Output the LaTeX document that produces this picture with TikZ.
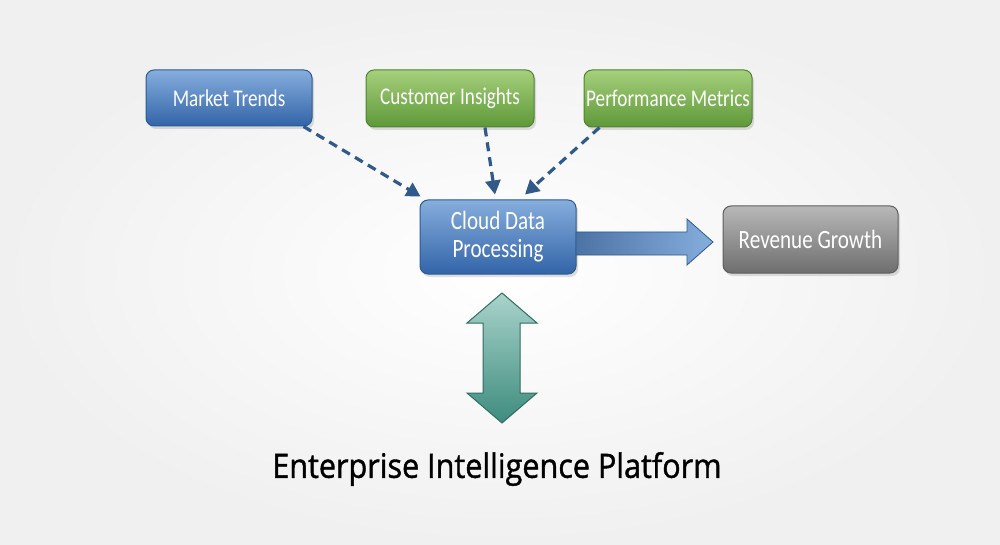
\documentclass[tikz,border=0pt]{standalone}
\usepackage{fontspec}
\setmainfont{Carlito}
\newfontfamily\nodefont[FakeStretch=0.8]{Carlito}
\newfontfamily\titlefont[FakeStretch=0.91,FakeBold=1.2]{Open Sans}
\usetikzlibrary{arrows.meta,shadows,calc}
\definecolor{bluetop}{HTML}{86AEDD}
\definecolor{bluebot}{HTML}{3264A8}
\definecolor{blueedge}{HTML}{2C5A94}
\definecolor{greentop}{HTML}{A6D07C}
\definecolor{greenbot}{HTML}{5E9838}
\definecolor{greenedge}{HTML}{4E8430}
\definecolor{graytop}{HTML}{B8B8B8}
\definecolor{graybot}{HTML}{6E6E6E}
\definecolor{grayedge}{HTML}{5E5E5E}
\definecolor{dashcol}{HTML}{2F5A8A}
\definecolor{tealtop}{HTML}{A9D3CB}
\definecolor{tealbot}{HTML}{3E8C7E}
\definecolor{tealedge}{HTML}{2F6E62}
\definecolor{bgout}{HTML}{F0F0F0}
\tikzset{
  box/.style={rounded corners=4pt, line width=0.5pt, text=white, align=center,
    font=\nodefont\fontsize{12}{13}\selectfont, inner sep=0pt,
    drop shadow={opacity=0.25, shadow xshift=1pt, shadow yshift=-1.5pt}},
  bigtext/.style={font=\nodefont\fontsize{13.2}{14}\selectfont},
  bluebox/.style={box, draw=blueedge, top color=bluetop, bottom color=bluebot},
  greenbox/.style={box, draw=greenedge, top color=greentop, bottom color=greenbot},
  graybox/.style={box, draw=grayedge, top color=graytop, bottom color=graybot},
  dasharr/.style={draw=dashcol, line width=1.6pt, dash pattern=on 4.5pt off 3pt,
    -{Triangle[length=7pt,width=7.5pt,fill=dashcol]}},
}
\begin{document}
\begin{tikzpicture}[x=0.5pt,y=-0.5pt]
\useasboundingbox (0,0) rectangle (1000,545);
\shade[inner color=white, outer color=bgout] (0,0) rectangle (1000,545);

\node[bluebox, minimum width=83pt, minimum height=28pt] (mt) at (229,98) {Market Trends};
\node[greenbox, minimum width=84pt, minimum height=28.5pt] (ci) at (450,98.5) {Customer Insights};
\node[greenbox, minimum width=84pt, minimum height=28.5pt] (pm) at (668,98.5) {Performance Metrics};
\node[bluebox, bigtext, minimum width=78pt, minimum height=37pt] (cloud) at (498,237) {Cloud Data\\Processing};
\node[graybox, bigtext, minimum width=87.5pt, minimum height=33.5pt] (rev) at (810.5,239.5) {Revenue Growth};

\draw[dasharr] ([xshift=-4.5pt]mt.south east) -- ([xshift=0.5pt,yshift=1.5pt]cloud.north west);
\draw[dasharr] ([xshift=17.5pt]ci.south) -- ([xshift=-1.5pt,yshift=2.5pt]cloud.north);
\draw[dasharr] ([xshift=8pt]pm.south west) -- ([xshift=13.5pt,yshift=2.5pt]cloud.north);

% right block arrow
\shade[left color=blueedge!85, right color=bluetop, draw=blueedge, line width=0.4pt]
  (576,232) -- (687,232) -- (687,219) -- (713,242) -- (687,265) -- (687,255) -- (576,255) -- cycle;

% vertical double arrow
\shade[top color=tealtop, bottom color=tealbot, draw=tealedge, line width=0.5pt]
  (502,293) -- (537,323) -- (520,323) -- (520,393) -- (537,393) -- (502,423)
  -- (467,393) -- (483,393) -- (483,323) -- (467,323) -- cycle;

\node[font=\titlefont\fontsize{16.8}{19}\selectfont, text=black] (title) at (497,469) {Enterprise Intelligence Platform};
\end{tikzpicture}
\end{document}
